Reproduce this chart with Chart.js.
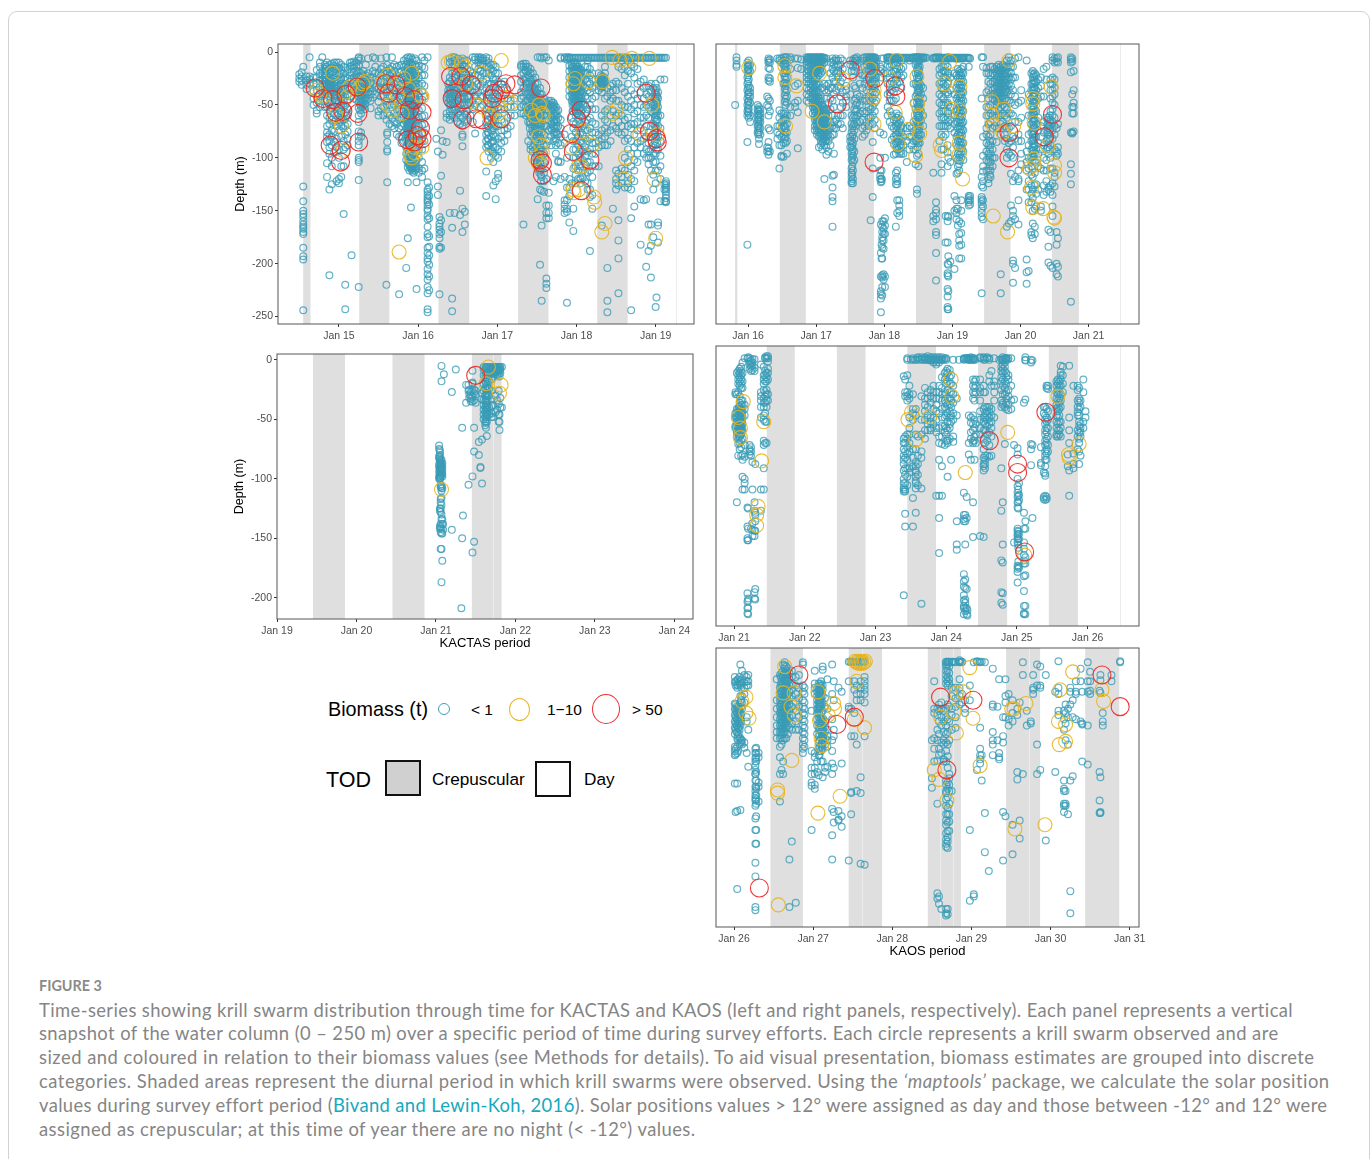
<!DOCTYPE html>
<html>
<head>
<meta charset="utf-8">
<title>Figure 3</title>
<script src="https://cdn.jsdelivr.net/npm/chart.js@4"></script>
<style>
html,body{margin:0;padding:0;background:#fff;width:1372px;height:1159px;overflow:hidden;font-family:"Liberation Sans",sans-serif}
#card{position:absolute;left:8px;top:11px;width:1360px;height:1300px;border:1px solid #d2d2d2;border-radius:9px}
canvas{position:absolute}
.t{position:absolute;white-space:nowrap;color:#000;line-height:1}
.cap{position:absolute;left:39px;white-space:nowrap;font-family:Lato,sans-serif;font-size:18.4px;color:#858585;line-height:1}
.cap a{color:#15a8c0;text-decoration:none}
.cap i{font-style:italic}
.ring{position:absolute;box-sizing:border-box;border-radius:50%;background:#fff}
.box{position:absolute;box-sizing:border-box;border:2.5px solid #111;width:36px;height:36px}
</style>
</head>
<body>
<div id="card"></div>

<canvas id="p1" width="473" height="324" style="left:233px;top:32px"></canvas>
<canvas id="p2" width="485" height="324" style="left:666px;top:32px"></canvas>
<canvas id="p3" width="473" height="309" style="left:232px;top:342px"></canvas>
<canvas id="p4" width="485" height="324" style="left:666px;top:334px"></canvas>
<canvas id="p5" width="485" height="323" style="left:666px;top:636px"></canvas>

<div class="t" style="left:328px;top:700px;font-size:19.8px">Biomass (t)</div>
<div class="ring" style="left:438px;top:703px;width:12px;height:12px;border:1.6px solid #3f9fb8"></div>
<div class="t" style="left:471px;top:702px;font-size:15.5px">&lt; 1</div>
<div class="ring" style="left:509px;top:698px;width:21px;height:23px;border:1.6px solid #e8b82a"></div>
<div class="t" style="left:547px;top:702px;font-size:15.5px">1−10</div>
<div class="ring" style="left:592px;top:694px;width:28px;height:30px;border:1.6px solid #f02c2c"></div>
<div class="t" style="left:632px;top:702px;font-size:15.5px">&gt; 50</div>
<div class="t" style="left:326px;top:770px;font-size:21.5px">TOD</div>
<div class="box" style="left:385px;top:760px;background:#d0d0d0"></div>
<div class="t" style="left:432px;top:771px;font-size:17.2px">Crepuscular</div>
<div class="box" style="left:535px;top:761px;background:#fff"></div>
<div class="t" style="left:584px;top:771px;font-size:17.2px">Day</div>

<div class="cap" style="top:979px;font-size:14.4px;font-weight:700;color:#8a8a8a">FIGURE 3</div>
<div class="cap" style="top:1001px;letter-spacing:.4px">Time-series showing krill swarm distribution through time for KACTAS and KAOS (left and right panels, respectively). Each panel represents a vertical</div>
<div class="cap" style="top:1024px;letter-spacing:.41px">snapshot of the water column (0 – 250 m) over a specific period of time during survey efforts. Each circle represents a krill swarm observed and are</div>
<div class="cap" style="top:1048px;letter-spacing:.49px">sized and coloured in relation to their biomass values (see Methods for details). To aid visual presentation, biomass estimates are grouped into discrete</div>
<div class="cap" style="top:1072px;letter-spacing:.51px">categories. Shaded areas represent the diurnal period in which krill swarms were observed. Using the <i>‘maptools’</i> package, we calculate the solar position</div>
<div class="cap" style="top:1096px;letter-spacing:.36px">values during survey effort period (<a href="#">Bivand and Lewin-Koh, 2016</a>). Solar positions values &gt; 12° were assigned as day and those between -12° and 12° were</div>
<div class="cap" style="top:1120px;letter-spacing:.44px">assigned as crepuscular; at this time of year there are no night (&lt; -12°) values.</div>

<script>
// ==== tick labels ====
const p1Days = [15, 16, 17, 18, 19];
const p2Days = [16, 17, 18, 19, 20, 21];
const p3Days = [19, 20, 21, 22, 23, 24];
const p4Days = [21, 22, 23, 24, 25, 26];
const p5Days = [26, 27, 28, 29, 30, 31];
const depthTicks = [0, -50, -100, -150, -200, -250];
const depthTicksKactas = [0, -50, -100, -150, -200];

// ==== crepuscular bands (start day, end day) ====
const p1Bands = [[14.549,14.641],[15.257,15.637],[16.257,16.646],[17.262,17.646],[18.262,18.646]];
const p2Bands = [[15.809,15.843],[16.466,16.848],[17.466,17.848],[18.466,18.848],[19.466,19.853],[20.461,20.858]];
const p3Bands = [[19.453,19.856],[20.453,20.856],[21.452,21.826]];
const p4Bands = [[21.463,21.859],[22.454,22.860],[23.45,23.857],[24.451,24.862],[25.452,25.863]];
const p5Bands = [[26.46,26.87],[27.449,27.871],[28.449,28.867],[29.438,29.868],[30.438,30.869]];
// thin pale slivers left in the shading
const p1Seams = [19.253];
const p2Seams = [21.456];
const p3Seams = [21.72];
const p4Seams = [26.453];
const p5Seams = [27.62, 28.6, 28.77, 29.73];

// ==== swarms < 1 t, one row per track: [day, [depths]] ====
const p1Small = [
[14.50,[-21,-25,-28]],[14.53,[-19,-23,-27,-31]],[14.55,[-14,-127,-141,-150,-153,-156,-160,-163,-165,-167,-170,-172,-185,-193,-196,-244]],
[14.59,[-23,-27,-31,-35]],[14.63,[-5,-23,-26,-30]],[14.68,[-24,-30,-37,-44,-50]],[14.72,[-17,-24,-30,-36,-42,-48,-55,-58]],
[14.76,[-10,-14,-20,-27,-33,-40,-46,-52]],[14.79,[-5,-18,-22,-26,-30,-36,-42]],[14.82,[-12,-16,-20,-24,-30,-36,-40,-46,-52]],
[14.85,[-10,-14,-18,-22,-26,-31,-35,-40,-45,-52,-60,-70,-76,-80,-85,-105,-118]],[14.88,[-12,-16,-20,-24,-28,-32,-36,-42,-48,-55,-62,-68,-78,-84,-90,-96,-130,-211]],
[14.91,[-11,-15,-19,-25,-30,-33,-36,-40,-47,-53,-64,-74,-80,-88,-100,-108,-125]],[14.94,[-10,-13,-18,-24,-29,-34,-38,-44,-51,-58,-66,-75,-85,-95]],
[14.97,[-10,-14,-20,-26,-32,-37,-41,-46,-52,-60,-70,-82,-90,-122]],[15.00,[-10,-15,-21,-27,-32,-36,-40,-47,-53,-58,-66,-74,-92,-100,-120,-124]],
[15.03,[-12,-17,-24,-30,-35,-40,-44,-50,-56,-62,-70,-80,-108,-118]],[15.06,[-14,-20,-26,-32,-38,-46,-52,-58,-64,-72,-84,-92,-108,-153]],
[15.08,[-15,-24,-30,-36,-42,-50,-57,-63,-70,-78,-90,-220,-243]],[15.11,[-17,-25,-33,-40,-46,-54,-60,-68,-75,-82,-88]],[15.14,[-10,-14,-22,-28,-35,-42]],
[15.16,[-10,-13,-19,-26,-33,-192]],[15.19,[-9,-12,-15,-19,-24,-30,-36,-44]],[15.22,[-10,-14,-18,-22,-26,-30,-38,-45]],
[15.25,[-5,-6,-8,-13,-18,-23,-28,-33,-38,-42,-47,-53,-60,-66,-75,-80,-84,-88,-100,-102,-104,-121,-222]],[15.28,[-6,-20,-30,-36,-40,-44,-48,-52,-58,-76,-80]],
[15.31,[-18,-25,-30,-35,-40,-45,-50]],[15.34,[-12,-22,-28,-33,-38,-46]],[15.37,[-6,-20,-26,-32,-38,-44]],[15.40,[-24,-29,-34,-40,-46,-53]],[15.43,[-5,-18,-24,-30,-37,-43]],
[15.46,[-6,-14,-20,-26,-33,-40]],[15.50,[-20,-27,-35,-47,-56,-60]],[15.53,[-6,-16,-22,-28,-36,-42,-53]],[15.56,[-14,-20,-28,-34,-42,-52,-60]],
[15.60,[-5,-18,-24,-32,-38,-46,-64,-220]],[15.61,[-12,-20,-28,-36,-50,-58,-76,-78,-85,-92,-94,-123]],[15.64,[-16,-22,-28,-35,-42,-50,-60,-68]],[15.67,[-5,-14,-20,-26,-34,-42,-52,-62,-70]],
[15.70,[-12,-18,-24,-30,-36,-44,-50,-58,-66,-72]],[15.73,[-14,-22,-28,-34,-40,-46,-54,-60,-68,-78]],[15.76,[-13,-19,-25,-31,-37,-43,-49,-56,-64,-72,-80,-229]],
[15.79,[-12,-18,-24,-30,-36,-42,-48,-54,-62,-70,-80,-86]],[15.82,[-8,-14,-20,-26,-32,-38,-44,-50,-56,-62,-68,-76,-84]],[15.85,[-6,-12,-18,-24,-30,-36,-42,-48,-54,-60,-66,-72,-78,-84,-90,-96,-102,-204]],
[15.87,[-5,-9,-15,-21,-27,-33,-39,-45,-51,-57,-63,-69,-75,-81,-87,-93,-99,-105,-109,-123,-176]],[15.89,[-6,-11,-17,-23,-29,-35,-41,-47,-53,-59,-65,-71,-77,-83,-89,-95,-101,-107,-112]],
[15.91,[-5,-10,-16,-22,-28,-34,-40,-46,-52,-58,-64,-70,-76,-82,-88,-94,-100,-106,-110,-147]],[15.93,[-7,-13,-19,-25,-31,-37,-43,-49,-55,-61,-67,-73,-79,-85,-91,-97,-103,-109,-113]],
[15.96,[-6,-12,-18,-24,-30,-36,-42,-48,-54,-60,-66,-72,-78,-84,-90,-96,-102,-108,-112]],[15.98,[-8,-14,-22,-30,-38,-46,-54,-62,-70,-78,-86,-94,-102,-110,-123,-224]],
[16.01,[-13,-17,-24,-31,-39,-47,-55,-62,-70,-78,-85,-92,-100,-110,-114]],[16.05,[-5,-14,-22,-30,-37,-45,-53,-61,-69,-77,-84,-92,-104,-112,-118]],[16.08,[-8,-15,-22,-32,-42,-60,-68,-76,-84,-110]],
[16.12,[-5,-123,-130,-132,-135,-138,-140,-142,-145,-148,-150,-155,-158,-165,-172,-175,-185,-190,-195,-198,-205,-210,-215,-222,-228,-243,-246]],[16.14,[-128,-136,-144,-157,-174,-184,-192,-201,-212,-225]],
[16.23,[-82]],[16.25,[-94,-127,-135]],[16.27,[-156,-162,-165,-168,-172,-176,-184,-186,-229]],[16.29,[-74,-117,-159,-170,-185]],[16.31,[-84,-97]],[16.36,[-85,-62,-58]],
[16.40,[-6,-10,-24,-28,-34,-38,-44,-50,-56,-60,-64,-152]],[16.43,[-5,-9,-14,-20,-26,-32,-38,-42,-48,-54,-60,-166,-233,-245]],[16.46,[-5,-8,-12,-18,-24,-30,-36,-42,-48,-54,-62,-152]],
[16.50,[-6,-10,-16,-22,-28,-34,-40,-46,-52,-58,-66]],[16.53,[-8,-14,-20,-26,-32,-38,-44,-50,-56,-60,-68,-131,-154]],[16.56,[-6,-12,-18,-24,-30,-36,-42,-48,-54,-62,-70,-78,-80,-89,-148,-170]],
[16.59,[-8,-14,-20,-26,-32,-38,-44,-50,-58,-66,-151,-163]],[16.62,[-8,-16,-24,-30,-36,-42,-50,-56,-64]],[16.66,[-18,-24,-30,-36,-42,-50,-60]],[16.69,[-5,-20,-26,-32,-38,-46,-54,-66]],
[16.72,[-5,-7,-14,-22,-28,-36,-42,-50,-77]],[16.76,[-5,-7,-10,-16,-22,-30,-38,-46]],[16.79,[-5,-6,-8,-12,-18,-24,-32,-42,-52]],[16.82,[-6,-8,-12,-20,-28,-36,-42,-50]],
[16.86,[-5,-8,-14,-20,-26,-34,-40,-46,-54,-60,-66,-72,-78,-84,-90,-113,-136]],[16.89,[-6,-10,-14,-20,-30,-38,-44,-52,-58,-64,-70,-76,-82,-88,-94]],[16.92,[-12,-16,-22,-30,-38,-46,-54,-62,-68,-74,-80,-86,-92,-100]],
[16.95,[-12,-18,-26,-34,-42,-50,-58,-66,-72,-78,-84,-90,-96,-104,-126]],[16.98,[-14,-20,-26,-34,-42,-50,-60,-70,-80,-90,-98,-122,-139]],[17.01,[-20,-28,-36,-44,-52,-60,-70,-82,-92,-100,-115,-119]],
[17.05,[-30,-36,-44,-54,-64,-74,-80,-86,-94]],[17.09,[-28,-34,-44,-54,-66,-74,-84]],[17.13,[-36,-44,-52,-62,-72,-78]],[17.17,[-46,-52,-60,-70]],[17.22,[-44,-52,-60]],
[17.30,[-12,-14,-22,-28,-38,-44,-52,-58]],[17.33,[-11,-14,-20,-26,-34,-42,-50,-58,-163]],[17.36,[-11,-14,-18,-24,-30,-38,-46,-52,-60]],[17.39,[-14,-18,-22,-28,-34,-40,-46,-52,-58,-66,-84]],
[17.42,[-16,-20,-26,-32,-38,-44,-50,-56,-62,-68,-78,-88,-92]],[17.45,[-20,-26,-32,-38,-44,-50,-58,-66,-76,-90,-94]],[17.48,[-24,-30,-36,-42,-50,-58,-66,-74,-84,-92,-100]],
[17.51,[-5,-30,-36,-42,-48,-54,-60,-68,-76,-86,-96,-104,-110,-139]],[17.54,[-5,-34,-40,-46,-52,-58,-64,-72,-80,-88,-96,-104,-112,-201,-130]],[17.56,[-6,-40,-46,-52,-60,-68,-76,-84,-92,-100,-110,-118,-131,-164,-235]],
[17.59,[-5,-44,-52,-60,-70,-78,-88,-96,-104,-114,-122,-132]],[17.62,[-5,-48,-54,-60,-70,-88,-120,-145,-152,-157,-214,-219,-223]],[17.65,[-8,-46,-50,-56,-64,-74,-84,-133,-145,-152,-157]],
[17.68,[-46,-50,-54,-60,-66,-72,-80,-88]],[17.71,[-48,-52,-58,-64,-70,-76,-84,-122]],[17.74,[-52,-58,-64,-70,-76,-82,-88,-96,-118]],[17.77,[-55,-62,-70,-78,-86,-103,-104]],[17.80,[-5,-6,-64,-72,-80,-88,-104,-120]],
[17.85,[-5,-6,-78,-86,-118,-140,-144,-148,-152]],[17.88,[-5,-7,-100,-128,-140,-148,-151,-237]],[17.91,[-5,-6,-13,-18,-24,-30,-36,-42,-161,-120,-128,-136]],[17.94,[-12,-16,-22,-28,-34,-40,-46,-62,-80,-124]],
[17.96,[-10,-14,-20,-24,-30,-36,-42,-48,-56,-66,-72,-84,-92,-100,-110,-148,-169]],[17.99,[-12,-16,-22,-28,-34,-40,-46,-52,-60,-68,-76,-84,-92,-100,-108,-116,-124]],[18.02,[-14,-18,-24,-30,-36,-42,-48,-56,-64,-72,-80,-88,-96,-104,-112,-120]],
[18.05,[-16,-20,-26,-32,-38,-44,-52,-60,-68,-76,-84,-92,-100,-108,-120,-124]],[18.08,[-20,-26,-32,-38,-46,-54,-62,-70,-78,-86,-94,-102,-112,-118]],[18.11,[-14,-20,-26,-34,-42,-50,-58,-66,-74,-82,-90,-98,-106,-114,-122]],
[18.14,[-8,-14,-20,-28,-36,-44,-54,-64,-74,-84,-94,-104,-114,-124,-130]],[18.17,[-16,-22,-30,-38,-50,-62,-72,-82,-92,-104,-112,-130,-137,-188]],[18.20,[-20,-26,-34,-44,-54,-66,-76,-86,-96,-108,-118,-135,-148]],
[18.24,[-26,-32,-42,-54,-68,-76,-86,-96,-108]],[18.28,[-20,-26,-30,-36,-78,-84,-90,-108]],[18.32,[-24,-28,-32,-38,-60,-74,-82,-88,-164]],[18.36,[-14,-20,-28,-44,-56,-64,-72,-80,-88]],
[18.39,[-204,-235,-246,-34,-42,-54,-66,-76,-88]],[18.43,[-32,-38,-46,-60,-74,-84]],[18.46,[-30,-36,-44,-56,-70,-148]],[18.50,[-28,-36,-46,-60,-72,-112,-120,-124,-130]],
[18.53,[-5,-14,-30,-46,-58,-66,-76,-115,-126,-178,-159,-195,-228]],[18.57,[-8,-16,-34,-50,-60,-70,-78,-110,-118,-124]],[18.61,[-14,-22,-38,-52,-64,-76,-84,-100,-112,-128]],
[18.65,[-8,-18,-30,-42,-52,-62,-70,-82,-92,-104,-116,-124,-128]],[18.69,[-12,-20,-36,-46,-54,-68,-72,-84,-96,-108,-120,-130,-157,-244]],[18.73,[-14,-24,-40,-50,-58,-68,-78,-90,-102,-112,-122,-146]],
[18.77,[-16,-30,-44,-56,-66,-74,-86,-96,-104]],[18.81,[-28,-38,-50,-62,-72,-84,-90,-139,-182]],[18.85,[-26,-34,-44,-52,-62,-74,-82,-96,-140]],[18.88,[-32,-40,-50,-60,-70,-80,-92,-100,-139,-203]],
[18.91,[-32,-42,-52,-62,-76,-86,-94,-100,-106,-188,-163]],[18.94,[-30,-38,-48,-56,-70,-80,-92,-100,-112,-163,-183,-213]],[18.97,[-34,-42,-50,-58,-68,-78,-88,-96,-104,-116,-130,-175]],
[19.00,[-30,-36,-42,-48,-54,-60,-66,-72,-80,-88,-96,-104,-112,-124,-241]],[19.01,[-34,-40,-46,-52,-58,-64,-72,-82,-92,-232]],[19.03,[-38,-44,-52,-60,-70,-80,-92,-112,-161,-164,-180]],
[19.06,[-26,-60,-72,-84,-98,-108,-120,-141]],[19.13,[-122,-124,-126,-128,-130,-132,-135,-138,-141,-142]],[19.11,[-26,-125,-130,-141]],
// solid patches
[14.875,[-27,-29,-31,-33,-35]],[14.90,[-27,-29,-31,-33,-35,-37]],[15.865,[-20,-24,-28,-32,-36,-40,-44,-48,-52,-56,-60,-64,-68,-72,-76]],[15.88,[-14,-18,-22,-26,-30,-34,-38,-42,-46,-50,-54,-58,-62,-66,-70,-74,-78,-86,-96,-104]],
[15.90,[-19,-25,-31,-37,-43,-49,-55,-61,-67,-73,-85,-98,-103,-108]],[15.92,[-12,-20,-26,-32,-38,-44,-50,-56,-62,-68,-74,-100,-105,-111]],[15.945,[-22,-28,-34,-40,-46,-52,-58,-64,-104,-109,-114]],[15.97,[-20,-27,-33,-39,-45,-51,-106,-110]],
[17.41,[-24,-30,-36,-42,-48,-54,-60,-66,-72]],[17.44,[-28,-34,-40,-46,-52,-56,-62,-70,-74,-80]],[17.47,[-34,-40,-46,-54,-62,-70,-78,-88]],[17.50,[-38,-44,-50,-56,-62,-72,-80,-94,-100,-108]],[17.53,[-43,-50,-56,-62,-68,-76,-84,-92,-100,-108,-114]],[17.55,[-48,-54,-62,-70,-82,-94,-106,-116,-122]],
[17.69,[-48,-52,-56,-62,-68,-74]],[17.72,[-50,-54,-60,-66,-72,-78]],[17.75,[-56,-60,-66,-72,-78]],
[17.95,[-14,-18,-26,-32,-38,-44,-50,-56]],[17.97,[-16,-22,-26,-32,-38,-44,-50]],[17.98,[-10,-18,-24,-30,-36,-42,-48,-54]],[18.00,[-14,-20,-26,-32,-38,-44,-50,-56]],[18.01,[-12,-16,-22,-28,-34,-40,-46,-52,-58]],[18.03,[-16,-20,-26,-32,-38,-44,-50,-60]],[18.04,[-22,-28,-34,-40,-46,-54]],[18.06,[-18,-24,-30,-36,-42,-48,-56]],
[18.31,[-22,-25,-27,-29,-31,-34]],[18.33,[-23,-26,-28,-30,-33]],[18.35,[-24,-27,-30]],[16.38,[-30,-36,-40,-44,-48]],[16.41,[-36,-40,-44,-46,-50]],[16.44,[-36,-40,-44,-48,-52]],[18.99,[-38,-44,-50,-56,-62,-70,-78,-84]],[19.02,[-42,-48,-56,-64,-76,-86]],
[15.30,[-22,-28,-33,-37,-42,-47,-52]],[15.33,[-24,-30,-35,-40,-44,-49,-54]],[15.27,[-24,-30,-34,-38,-42,-46,-50,-55]],[15.02,[-20,-26,-32,-38,-44,-50,-56,-64]],[14.96,[-16,-22,-28,-34,-40,-48]],[14.83,[-14,-18,-22,-26,-28,-33,-38]],[16.55,[-16,-24,-34,-44]],[16.64,[-22,-28,-34,-42,-48]],[16.88,[-64,-70,-76,-82,-88]],[16.94,[-66,-74,-84,-94]],[16.96,[-30,-38,-46,-54,-62,-70]]
];
const p1SurfaceDays = [17.90,17.93,17.95,17.97,17.99,18.01,18.03,18.05,18.07,18.09,18.11,18.13,18.15,18.17,18.19,18.21,18.23,18.25,18.27,18.29,18.31,18.33,18.35,18.37,18.39,18.41,18.43,18.45,18.47,18.49,18.51,18.53,18.55,18.57,18.59,18.61,18.63,18.65,18.67,18.69,18.71,18.73,18.75,18.77,18.79,18.81,18.83,18.85,18.87,18.89,18.91,18.93,18.95,18.97,18.99,19.01,19.03,19.05,19.07,19.09,19.11,19.13];

const p2Small = [
[15.81,[-50]],[15.83,[-5,-8,-12,-14]],[15.99,[-10,-14,-18,-24,-30,-36,-44,-50,-56,-60,-85,-182]],[16.01,[-8,-12,-16,-20,-26,-32,-38,-42,-46,-50,-54,-58,-62]],[16.03,[-12,-18,-34,-38,-42,-48,-60,-66]],[16.00,[-13,-17,-22,-28,-34,-40,-47,-53,-57]],
[16.14,[-50,-54,-58,-64,-70,-76]],[16.16,[-52,-56,-60,-64,-68,-72,-76,-82,-87]],[16.18,[-54,-58,-62,-66,-72,-78]],[16.15,[-55,-59,-62,-66,-70,-74,-78]],[16.28,[-42,-50,-90,-94]],[16.30,[-6,-8,-10,-15,-24,-27,-44,-52,-60,-72,-85,-91,-94,-97]],[16.32,[-7,-10,-16,-25,-28,-46,-56,-74,-94]],
[16.43,[-6,-70,-76,-82]],[16.46,[-6,-8,-55,-62,-70,-78,-88,-110]],[16.49,[-6,-10,-58,-66,-72,-80,-88,-98,-99]],[16.52,[-5,-8,-12,-20,-30,-58,-64,-70,-78,-86,-99]],[16.55,[-5,-8,-14,-20,-26,-32,-38,-44,-50,-58,-64,-72,-80,-86]],[16.54,[-11,-17,-23,-29,-35,-41,-47,-62,-70,-76,-82]],
[16.57,[-5,-10,-18,-24,-30,-36,-42,-48,-60,-68,-76,-84,-96]],[16.62,[-5,-7,-16,-52,-60]],[16.69,[-6,-32,-48,-52]],[16.73,[-6,-15,-30,-46,-57,-91]],[16.78,[-7,-16]],
[16.86,[-5,-7,-9,-12,-16,-20,-24,-28,-34,-40,-46]],[16.89,[-5,-7,-10,-14,-18,-22,-26,-30,-36,-42,-48]],[16.92,[-5,-7,-10,-14,-18,-22,-26,-30,-34,-38,-44]],[16.95,[-5,-8,-12,-16,-20,-24,-28,-32,-36,-40,-44,-48,-52,-58]],
[16.98,[-5,-8,-12,-16,-20,-26,-32,-36,-40,-44,-48,-52,-56,-60,-64,-70,-74]],[17.01,[-5,-7,-10,-14,-18,-24,-30,-34,-38,-44,-50,-56,-62,-66,-70,-74,-78]],[17.04,[-5,-8,-12,-16,-22,-30,-38,-44,-48,-54,-58,-62,-66,-70,-74,-80,-90]],
[17.07,[-5,-7,-11,-15,-20,-44,-50,-54,-58,-62,-66,-70,-74,-78,-84,-88]],[17.09,[-5,-8,-12,-18,-34,-50,-54,-58,-62,-66,-70,-74,-78,-82,-86,-92]],[17.12,[-6,-10,-30,-36,-54,-58,-62,-66,-70,-74,-78,-82,-88,-120]],[17.15,[-6,-32,-38,-44,-54,-58,-62,-68,-74,-80,-84,-90,-97]],
[16.97,[-10,-14,-18,-22,-28,-34,-38,-42,-46,-50,-54]],[17.00,[-9,-13,-19,-25,-31,-37,-42,-46,-52,-58,-64,-68]],[17.03,[-10,-14,-20,-42,-46,-50,-56,-60,-64,-68,-72,-76]],[17.06,[-9,-13,-17,-46,-52,-56,-60,-64,-68,-72,-76,-80]],[17.105,[-52,-56,-60,-64,-68,-72,-76,-80,-84]],[17.135,[-56,-60,-64,-68,-72,-76,-80,-84]],
[17.18,[-30,-36,-48,-60,-66,-72,-78,-84,-94]],[17.21,[-10,-20,-34,-44,-54,-66,-72,-80,-88]],[17.24,[-6,-10,-16,-24,-34,-46,-60,-70,-78,-117,-128,-137,-141,-165]],[17.26,[-8,-12,-18,-28,-40,-52,-66,-72,-78,-96,-116]],
[17.29,[-6,-8,-14,-20,-28,-36,-64,-72]],[17.32,[-8,-12,-18,-24,-32,-60,-68]],[17.36,[-6,-12,-20,-28,-34,-42,-52,-60,-68]],[17.39,[-8,-16,-24,-38,-48,-60,-72]],[17.44,[-32,-36,-42,-46,-52]],
[17.50,[-8,-12,-40,-80,-84,-90]],[17.52,[-18,-60,-68,-76,-84,-90,-96,-102,-110,-114,-118,-122,-124]],[17.54,[-8,-14,-24,-62,-70,-78,-86,-92,-98,-104,-112,-120,-124]],[17.56,[-6,-10,-18,-32,-46,-54,-60,-68,-74,-82,-94,-102]],[17.53,[-72,-80,-88,-94,-100,-108,-116]],
[17.58,[-6,-8,-14,-34,-44,-50,-56,-62,-70]],[17.60,[-5,-8,-12,-40,-48,-54,-60,-66]],[17.64,[-20,-30,-42,-50,-58,-66]],[17.68,[-6,-22,-34,-46,-56,-64,-72,-80]],[17.71,[-5,-8,-14,-22,-30,-44,-58,-70,-78]],
[17.74,[-5,-8,-12,-18,-26,-36,-46,-56,-66,-74]],[17.77,[-5,-7,-10,-16,-24,-32,-42,-52,-62,-70]],[17.80,[-5,-8,-12,-18,-24,-30,-38,-46,-54,-62,-159]],[17.83,[-5,-7,-10,-14,-20,-26,-32,-38,-44,-52,-60,-68,-85,-110,-137]],
[17.86,[-5,-8,-12,-16,-22,-28,-34,-40,-48,-56,-64,-72]],[17.88,[-6,-10,-14,-18,-24,-30,-38,-46]],[17.85,[-7,-11,-15,-20,-26,-32]],[17.82,[-9,-13,-17,-22,-28]],[17.94,[-14,-18,-76,-120,-100,-112,-117]],[17.96,[-6,-16,-24,-120,-122,-112,-120,-182,-195]],
[17.95,[-123,-163,-190,-212,-226,-229,-233,-246]],[17.97,[-160,-165,-170,-175,-178,-185,-195,-211,-213,-222,-230]],[17.99,[-6,-20,-78,-160,-167,-172,-178,-186,-210,-215]],[18.01,[-100,-157,-164,-172,-212,-222]],
[18.05,[-5,-8,-12,-20,-30,-40,-52,-60]],[18.08,[-5,-8,-14,-24,-30,-38,-46,-56,-66]],[18.11,[-7,-12,-20,-28,-36,-46,-60,-70,-83]],[18.14,[-6,-12,-18,-30,-38,-46,-64,-72,-80,-87,-97]],[18.17,[-7,-12,-18,-26,-34,-44,-62,-70,-78,-86,-96,-114,-120,-125,-165]],
[18.19,[-5,-10,-16,-22,-30,-62,-70,-78,-85,-92,-112,-118,-122,-125,-140,-152]],[18.22,[-6,-14,-20,-28,-66,-74,-82,-90,-96,-140,-145,-150,-155]],[18.25,[-8,-16,-24,-34,-70,-76,-84,-90,-96]],[18.28,[-6,-14,-22,-72,-80,-88,-96]],[18.18,[-58,-66,-74,-82,-90]],[18.21,[-60,-68,-76,-84,-92]],[18.24,[-64,-72,-80,-88,-94]],
[18.33,[-6,-72,-84,-104]],[18.37,[-8,-70,-80,-92]],[18.40,[-6,-72,-80,-88]],[18.43,[-5,-30,-48,-66,-76,-84,-92]],[18.46,[-5,-12,-20,-30,-42,-54,-64,-74,-84,-92,-106]],[18.48,[-5,-10,-16,-24,-32,-40,-48,-58,-66,-76,-84,-98,-134,-130]],
[18.50,[-5,-9,-14,-20,-26,-32,-38,-44,-50,-56,-62,-70,-78,-86,-96,-108]],[18.52,[-5,-8,-14,-22,-30,-36,-42,-48,-54,-62,-70,-78,-86]],[18.54,[-6,-32,-40,-48,-56,-64,-78]],[18.57,[-5,-6,-34,-44,-60,-70]],[18.49,[-13,-19,-28,-36,-44,-52,-60,-68,-74,-82,-90]],[18.51,[-17,-24,-34,-46,-52,-60,-66,-74,-82]],
[18.72,[-6,-114,-155,-160]],[18.76,[-5,-6,-170,-142,-149,-152,-158,-173,-190,-216]],[18.81,[-5,-6,-16,-22,-30,-40,-48,-58,-70,-84]],[18.84,[-6,-14,-20,-28,-34,-42,-50,-56,-62,-70,-78,-92,-106,-114]],
[18.87,[-6,-14,-18,-24,-30,-36,-44,-50,-56,-62,-70,-80,-92]],[18.90,[-6,-12,-18,-24,-32,-40,-48,-56,-64,-70,-78,-155,-180]],[18.93,[-6,-14,-22,-30,-38,-48,-56,-62,-70,-88,-95,-108,-160,-155,-180,-200,-209,-211,-224,-231,-241,-243]],[18.94,[-5,-20,-28,-40,-50,-58,-66,-100,-156,-193,-201,-212,-226,-243]],
[18.97,[-6,-24,-36,-52,-64,-72,-104,-198]],[19.03,[-6,-20,-40,-60,-68,-76,-136,-150,-205]],[19.06,[-6,-22,-34,-44,-56,-66,-80,-88,-100,-115,-140,-148,-152,-158]],[19.08,[-6,-16,-24,-30,-36,-42,-48,-54,-60,-66,-72,-78,-84,-90,-96,-102,-108,-114,-148,-164]],
[19.10,[-6,-18,-22,-28,-34,-40,-46,-52,-58,-64,-70,-76,-82,-88,-94,-100,-106,-112,-160,-172,-178,-183,-195]],[19.13,[-6,-16,-22,-28,-34,-40,-46,-52,-58,-64,-70,-76,-82,-88,-94,-100,-140,-150,-162,-171,-182,-195]],[19.16,[-6,-14,-20,-28,-38,-46,-56,-66,-74,-86,-94,-102]],[19.11,[-20,-25,-31,-37,-43,-49,-55,-61,-67,-73,-79,-85,-91,-97,-103]],[19.14,[-19,-25,-31,-37,-43,-49,-55,-61,-67,-73,-79,-85,-91]],
[19.24,[-6,-14,-136,-138,-140,-142,-145]],[19.26,[-6,-136,-140,-144]],[19.43,[-5,-44,-118,-126,-137,-139,-141,-144,-148,-152,-156,-228]],[19.45,[-5,-14,-80,-98,-108,-113,-122,-128,-140,-146,-158]],
[19.50,[-15,-20,-38,-52,-60,-72,-78,-86,-94,-102,-112]],[19.53,[-20,-28,-36,-44,-52,-60,-68,-80,-88,-96,-104,-112,-120,-124]],[19.56,[-14,-22,-30,-40,-50,-58,-66,-78,-88,-96,-104,-112,-118]],[19.59,[-14,-20,-28,-36,-44,-60,-72,-84,-92,-100,-108]],[19.55,[-84,-92,-100,-108,-116]],
[19.62,[-16,-22,-28,-34,-40,-46,-56,-70,-100]],[19.65,[-14,-20,-26,-32,-38,-44,-50,-60,-72,-85]],[19.68,[-12,-18,-24,-30,-36,-42,-48,-54,-60,-72]],[19.71,[-14,-20,-26,-32,-38,-44,-52,-60,-68,-78,-210,-228]],[19.66,[-17,-23,-29,-35,-41,-47]],[19.69,[-15,-21,-27,-33,-39,-45]],[19.72,[-17,-23,-29,-35,-41]],[19.75,[-15,-21,-27,-33,-39]],[19.78,[-17,-23,-29,-35]],
[19.74,[-12,-18,-24,-30,-36,-42,-50,-58,-66]],[19.77,[-14,-20,-26,-32,-38,-44,-52,-60,-70,-78,-84]],[19.80,[-8,-14,-20,-26,-32,-38,-46,-54,-62,-72,-82,-92,-100,-165]],[19.83,[-5,-12,-18,-24,-30,-36,-46,-58,-72,-86,-96,-162]],
[19.86,[-8,-14,-20,-26,-32,-40,-48,-58,-70,-84,-98,-115,-145,-160]],[19.89,[-14,-24,-36,-60,-80,-90,-100,-122,-150,-155,-200,-197,-218]],[19.92,[-6,-24,-42,-50,-66,-82,-118,-158,-204]],[19.97,[-5,-48,-66,-78,-84,-112,-122,-140,-163,-120]],
[20.01,[-36,-46,-62,-84,-96,-106]],[20.09,[-8,-94,-104,-112,-130,-196,-208,-219]],[20.12,[-40,-60,-78,-88,-100,-110,-122,-130,-142,-207]],[20.16,[-20,-30,-36,-44,-52,-60,-68,-76,-84,-92,-100,-108,-116,-126,-134,-142,-170,-173]],
[20.18,[-18,-24,-30,-36,-42,-48,-54,-60,-66,-72,-78,-84,-90,-96,-102,-110,-118,-130,-138,-150,-162,-176]],[20.21,[-20,-28,-34,-40,-48,-56,-64,-72,-80,-88,-96,-104,-114,-126,-148,-172,-165]],[20.23,[-22,-28,-36,-46,-56,-68,-80,-92,-104,-125,-134,-146]],[20.19,[-21,-27,-33,-39,-45,-51,-57,-63,-69,-75,-81,-87,-93,-99]],[20.20,[-23,-29,-35,-41,-47,-53,-59,-65,-71,-77,-83,-89]],
[20.26,[-26,-34,-44,-62,-74,-86,-96,-108,-130]],[20.30,[-24,-32,-42,-70,-80,-92,-110,-150,-146]],[20.34,[-16,-42,-66,-76,-88,-100,-112,-126,-135]],[20.38,[-14,-26,-62,-74,-84,-92,-102,-112,-122,-132]],[20.41,[-62,-70,-78,-86,-96,-130,-128,-168,-184,-199]],[20.40,[-64,-68,-72,-76,-82,-90]],[20.43,[-60,-66,-70,-74,-82,-92]],
[20.44,[-26,-30,-36,-44,-56,-64,-72,-80,-88,-100,-110,-126,-132,-170,-202]],[20.47,[-5,-8,-24,-30,-36,-42,-48,-54,-60,-66,-74,-82,-110,-124,-135,-146,-204,-155]],[20.50,[-6,-10,-26,-34,-40,-50,-62,-70,-78,-92,-114,-118,-127]],
[20.53,[-6,-9,-72,-94,-98,-170,-182,-200,-210]],[20.55,[-5,-10,-68,-90,-96,-176,-203,-212]],[20.74,[-5,-7,-10,-19,-76,-106,-115,-125,-236]],[20.76,[-6,-9,-40,-52,-58,-76,-77]],[20.78,[-18,-36,-48,-52,-58,-75]]
];
const p2SurfaceDays = [16.88,16.90,16.92,16.94,16.96,16.98,17.0,17.02,17.04,17.06,17.08,17.10,17.12,17.78,17.80,17.82,17.84,17.86,18.04,18.06,18.08,18.10,18.12,18.14,18.16,18.18,18.20,18.22,18.24,18.26,18.28,18.30,18.32,18.34,18.36,18.38,18.40,18.42,18.44,18.46,18.48,18.50,18.52,18.54,18.56,18.58,18.60,18.62,18.72,18.74,18.76,18.78,18.80,18.82,18.84,18.86,18.88,18.90,18.92,18.94,18.96,18.98,19.00,19.02,19.04,19.06,19.08,19.10,19.12,19.14,19.16,19.18,19.20,19.22,19.24];

const p3Small = [
[21.07,[-5,-18,-187]],[21.10,[-12]],[21.25,[-8]],[21.20,[-27,-143]],
[21.04,[-72,-75,-81,-83,-88,-90,-94,-98,-100]],[21.05,[-76,-78,-80,-82,-84,-86,-90,-92,-95,-97,-99,-100,-125,-127,-140,-142]],[21.06,[-85,-87,-89,-91,-93,-95,-97,-99,-105,-107,-117,-120,-125,-128,-138,-141,-145,-159]],
[21.07,[-84,-88,-92,-96,-106,-108,-110,-116,-122,-130,-134,-142,-146,-159]],[21.08,[-87,-90,-93,-96,-98,-108,-134,-138,-146,-169]],[21.09,[-138,-143]],
[21.33,[-57,-150]],[21.34,[-131]],[21.32,[-209]],[21.48,[-57,-77,-153]],[21.46,[-98,-162,-9,-19]],[21.41,[-105,-21,-26]],[21.58,[-104,-67]],[21.56,[-90,-91]],[21.54,[-80,-69]],[21.64,[-64]],
[21.38,[-36,-21]],[21.42,[-25,-29,-32]],[21.44,[-27,-30,-33,-35]],[21.46,[-20,-26,-31,-35]],[21.48,[-25,-28,-34]],[21.50,[-26,-29,-36]],[21.58,[-33,-28]],
[21.60,[-6,-8,-13,-20,-26,-34,-38,-42,-46,-50]],[21.62,[-6,-9,-13,-18,-24,-30,-35,-40,-44,-48,-52,-55]],[21.63,[-7,-11,-15,-20,-25,-30,-34,-38,-42,-46,-50,-53,-57]],[21.64,[-6,-10,-16,-22,-28,-32,-36,-40,-44,-48,-52]],
[21.65,[-7,-12,-18,-24,-30,-34,-38,-42,-46]],[21.67,[-6,-9,-12,-18,-24,-30,-40,-46]],[21.70,[-7,-11,-16,-26,-33,-39,-45,-48]],[21.72,[-6,-10,-14,-38,-48]],[21.75,[-6,-9,-12,-30,-44]],[21.77,[-6,-9,-13,-34,-42]],
[21.79,[-6,-8,-12,-26,-37,-46,-52]],[21.80,[-6,-9,-14,-46,-52,-59]],[21.81,[-6,-8,-11,-32,-40]],[21.83,[-6,-40]],
[21.69,[-6,-8,-10]],[21.71,[-7,-9,-12]],[21.73,[-6,-8,-11]],[21.74,[-7,-10]],[21.76,[-7,-10]],[21.78,[-7,-10]]
];

const p4Small = [
[21.02,[-36,-38,-56,-58,-60,-68,-70]],[21.04,[-18,-38,-52,-56,-60,-64,-68,-72,-74,-78,-140]],[21.06,[-16,-20,-24,-28,-36,-52,-56,-60,-64,-68,-72,-76,-80,-85,-96]],[21.08,[-14,-18,-22,-26,-30,-40,-46,-50,-54,-58,-62,-66,-70,-74,-78,-84,-90]],
[21.10,[-12,-16,-20,-24,-28,-32,-44,-48,-52,-56,-60,-64,-68,-72,-76,-82,-88,-96]],[21.12,[-8,-18,-26,-32,-44,-48,-54,-60,-66,-72,-80,-95,-100,-116,-128]],[21.15,[-4,-48,-52,-58,-86,-97,-118,-122,-128]],
[21.07,[-50,-54,-58,-62,-66,-70,-74,-78]],[21.09,[-52,-56,-60,-64,-68,-72,-76]],[21.11,[-54,-58,-62,-66,-70,-74]],
[21.19,[-4,-145,-163,-174,-176,-226,-234,-240,-245]],[21.20,[-3,-146,-165,-176,-231,-233,-240,-246]],[21.22,[-4,-7,-10,-14,-86,-90,-92,-95]],[21.24,[-6,-9,-12,-16,-88,-92,-96,-165]],[21.26,[-5,-8,-11,-15,-102,-128,-160,-166,-172]],
[21.29,[-5,-13,-16,-140,-148,-167,-172,-225,-231]],[21.30,[-104,-150,-152,-158,-167,-222,-232]],[21.38,[-10,-128,-148,-36,-40,-44,-50,-60]],[21.42,[-12,-20,-24,-28,-34,-42,-46,-50,-58,-62,-82,-86,-108,-128]],
[21.44,[-4,-3,-16,-20,-26,-36,-40,-46,-56,-64,-84]],[21.46,[-2,-4,-18,-22,-26,-34,-38,-44,-50,-64,-84]],[21.48,[-2,-4,-7,-14,-18,-24,-38,-44]],
[23.40,[-21,-80,-84,-90,-96,-100,-104,-110,-118,-122,-126,-128,-130,-228]],[23.42,[-24,-36,-40,-78,-84,-92,-98,-108,-114,-122,-128,-130,-151,-163]],[23.45,[-4,-20,-36,-40,-44,-76,-80,-88,-94,-100,-108,-116,-124]],
[23.48,[-30,-38,-42,-60,-70,-76,-84,-92,-108,-112]],[23.53,[-4,-38,-52,-56,-62,-90,-98,-106,-163,-136]],[23.57,[-52,-58,-76,-90,-102,-106,-110,-112,-116,-120,-122,-127,-150]],[23.60,[-4,-3,-78,-96,-104,-114,-124]],
[23.65,[-5,-3,-40,-62,-76,-92,-98,-127,-236]],[23.70,[-4,-3,-32,-42,-48,-54,-62,-72,-80]],[23.74,[-4,-2,-36,-42,-50,-58,-66,-72]],[23.78,[-5,-3,-6,-34,-40,-46,-60,-64,-70,-72]],[23.82,[-3,-5,-8,-30,-36,-42,-52,-60,-66]],
[23.86,[-3,-5,-8,-10,-36,-42,-48,-54,-62,-70,-74,-134]],[23.90,[-3,-5,-8,-30,-36,-42,-56,-70,-78,-84,-100,-134,-155,-188]],[23.94,[-3,-5,-22,-32,-38,-44,-52,-60,-68,-78,-85,-106,-134]],[23.98,[-4,-18,-24,-36,-44,-50,-60,-68,-74,-86]],
[24.00,[-4,-16,-22,-28,-38,-46,-52,-58,-70,-76,-82]],[24.02,[-14,-18,-26,-34,-42,-48,-56,-64,-72,-82,-84,-116]],[24.05,[-15,-22,-28,-36,-42,-48,-54,-60,-66,-70,-80]],[24.07,[-20,-28,-36,-44,-50,-58,-64,-100]],[24.10,[-30,-38,-46,-56,-62,-78,-83]],
[24.15,[-42,-58,-158,-180,-185]],[24.25,[-4,-5,-131,-152,-156,-158,-208,-215,-220,-228,-233,-238,-240,-246]],[24.27,[-4,-180,-152,-158,-213,-221,-232,-235,-240,-243]],[24.29,[-4,-135,-155,-222,-240,-246]],[24.30,[-4,-5,-247,-242]],
[24.32,[-4,-5,-58,-84,-95]],[24.35,[-3,-4,-60,-65,-74,-80,-100]],[24.38,[-4,-5,-24,-30,-36,-42,-58,-66,-72,-82,-84,-140,-173]],[24.40,[-4,-26,-32,-38,-44,-62,-70,-78,-82,-100]],[24.42,[-24,-30,-36,-66,-76,-84]],
[24.48,[-4,-3,-24,-32,-36,-44,-54,-62,-70,-76,-172]],[24.53,[-3,-4,-30,-36,-52,-60,-64,-72,-80,-90,-98,-104,-106,-110,-173]],[24.55,[-36,-50,-56,-60,-66,-72,-84,-96,-100,-104,-108]],
[24.58,[-3,-4,-50,-54,-58,-62,-68,-76,-82,-96]],[24.61,[-4,-20,-26,-50,-54,-60,-66,-74,-86,-97]],[24.64,[-16,-30,-52,-58,-64,-70,-78,-96]],[24.68,[-4,-26,-30,-36,-60,-44]],
[24.78,[-5,-12,-16,-22,-26,-34,-44,-50,-108,-148,-195,-225,-235]],[24.80,[-3,-6,-10,-14,-18,-24,-30,-38,-46,-48,-140,-180,-197,-226,-237]],[24.83,[-4,-8,-12,-16,-26,-32,-38,-50,-85]],[24.85,[-4,-4,-18,-22,-28,-36,-42,-46,-52]],
[24.88,[-4,-20,-24,-34,-40,-48,-53]],[24.92,[-4,-44,-52,-30]],[24.96,[-43,-86,-178]],[25.01,[-89,-95,-118,-125,-131,-135,-140,-145,-165,-167,-170,-172,-175,-178,-200,-203,-206,-216]],[25.02,[-128,-134,-140,-146,-168,-174,-180,-183,-196,-201]],
[25.03,[-122,-133,-138,-170,-175,-186,-202]],[25.10,[-46,-150,-165,-178,-184,-190,-195,-198,-210,-224,-238,-245,-246]],[25.12,[-3,-6,-43,-158,-165,-192,-198,-209,-238,-246]],[25.20,[-8,-85,-90,-105]],[25.22,[-6,-86,-155]],
[25.34,[-88,-103,-105]],[25.38,[-50,-56,-112,-135,-137]],[25.40,[-50,-58,-62,-66,-72,-76,-82,-86,-92,-96,-100,-106,-113,-115,-134,-138]],[25.42,[-30,-32,-52,-60,-64,-70,-74,-80,-84,-90,-94,-100,-135,-137]],[25.44,[-30,-33,-54,-62,-70,-78,-86,-92]],
[25.56,[-26,-30,-36,-42,-48,-52,-58,-64,-70,-76,-78]],[25.58,[-24,-28,-34,-38,-44,-50,-54,-60,-66,-72,-78]],[25.60,[-26,-30,-36,-42,-46,-52,-58,-64,-72,-76]],[25.62,[-11,-17,-20,-24,-30,-38,-44,-50,-64,-70,-78]],[25.65,[-12,-20,-28,-36]],
[25.74,[-11,-60,-72,-84,-110,-134]],[25.72,[-106,-95]],[25.80,[-108,-104,-94,-30]],[25.86,[-30,-34,-44,-50,-55,-58,-72,-78,-90]],[25.88,[-32,-42,-46,-52,-58,-64,-68,-74,-80,-84,-92,-104]],[25.90,[-44,-50,-66,-70,-74,-78,-96]],[25.94,[-24,-36,-64,-70]],[25.97,[-54,-60]]
];
const p4SurfaceDays = [23.45,23.50,23.53,23.56,23.58,23.62,23.66,23.69,23.71,23.73,23.75,23.77,23.79,23.81,23.83,23.85,23.87,23.89,23.91,23.93,23.95,23.97,24.0,24.10,24.18,24.25,24.31,24.33,24.35,24.37,24.39,24.41,24.53,24.55,24.61,24.75,24.79,24.81,24.83,24.85,24.87,25.12,25.2];

const p5Small = [
[26.01,[-20,-25,-45,-50,-56,-62,-68,-74,-86,-90,-94,-121]],[26.02,[-24,-28,-46,-52,-58,-64,-70,-88,-93,-148]],[26.04,[-23,-27,-30,-50,-54,-60,-66,-72,-78,-86,-92,-121,-147,-221]],
[26.05,[-22,-28,-48,-52,-58,-62,-68,-76,-80,-90]],[26.07,[-20,-26,-46,-52,-58,-64,-70,-78,-84]],[26.08,[-8,-24,-28,-38,-44,-54,-60,-66,-78,-146]],[26.09,[-26,-30,-42,-48,-56,-62,-80,-82]],[26.03,[-48,-54,-60,-66,-72]],[26.06,[-50,-56,-62,-68,-74]],
[26.10,[-14,-22,-38,-44,-50,-80,-84]],[26.13,[-18,-25,-30,-36,-44,-82,-87]],[26.16,[-20,-24,-28,-58,-62,-92]],[26.18,[-18,-24,-28,-70,-105]],[26.27,[-88,-92,-97,-100,-104,-108,-112,-118,-112,-124,-128,-132,-135,-137,-142,-154,-165,-178,-196,-209,-238,-241]],
[26.28,[-87,-92,-96,-100,-110,-118,-124,-126,-132,-136,-140,-152,-165,-178]],[26.31,[-92,-96,-120,-124,-138]],[26.54,[-22,-42,-50,-58,-66,-72,-78]],[26.58,[-18,-30,-36,-42,-48,-54,-60,-66,-72,-78,-86,-96,-112,-138]],
[26.60,[-16,-24,-30,-36,-42,-48,-54,-60,-66,-72,-78,-84,-108]],[26.62,[-8,-14,-20,-26,-32,-38,-44,-50,-56,-62,-68,-74,-80,-100,-112]],[26.64,[-6,-9,-12,-18,-24,-30,-36,-42,-48,-54,-60,-66,-72,-78]],
[26.66,[-10,-14,-20,-26,-32,-38,-44,-50,-56,-62,-68,-78]],[26.68,[-12,-18,-24,-30,-36,-42,-48,-54,-60,-66,-74]],[26.70,[-16,-22,-28,-34,-40,-46,-52,-58,-68,-193,-238]],[26.73,[-14,-20,-26,-32,-38,-48,-56,-64,-70,-176]],
[26.59,[-20,-27,-33,-39,-45,-51,-57,-63,-69,-75]],[26.61,[-19,-28,-34,-40,-46,-52,-58,-64,-70]],[26.63,[-17,-23,-29,-35,-41,-47,-53,-59,-65,-71]],[26.65,[-16,-22,-28,-34,-40,-46,-52,-58,-64]],[26.67,[-16,-23,-29,-35,-41,-47,-53,-59]],
[26.78,[-20,-28,-36,-44,-52,-62,-70,-234]],[26.82,[-18,-30,-40,-48,-58,-70]],[26.87,[-6,-8,-28,-34,-42,-48,-54,-60,-66,-72,-78,-84,-88,-92]],[26.89,[-30,-36,-44,-50,-56,-62,-68,-74,-80,-86]],
[26.98,[-52,-90,-106,-112,-120,-123,-165]],[27.02,[-14,-26,-30,-36,-92,-96,-106,-112,-122,-126]],[27.05,[-30,-34,-38,-42,-46,-50,-54,-60,-66,-74,-100,-110]],[27.07,[-26,-30,-34,-38,-42,-46,-50,-54,-58,-64,-70,-76,-82,-88,-94,-113]],
[27.08,[-28,-32,-36,-40,-44,-48,-52,-56,-62,-68,-74,-80,-86,-90,-94]],[27.10,[-24,-28,-32,-36,-40,-44,-48,-54,-60,-66,-72,-78,-84,-90,-100]],[27.12,[-10,-13,-28,-32,-38,-44,-52,-60,-70,-76,-80,-84,-88,-100,-115]],[27.09,[-26,-30,-34,-38,-42,-46,-50,-58,-64,-70]],[27.11,[-58,-62,-66,-70,-74,-78,-82,-86]],[27.13,[-60,-64,-68,-72,-76,-80]],
[27.15,[-40,-48,-62,-72,-78,-84,-106,-110]],[27.18,[-22,-50,-70,-76,-80,-86,-105]],[27.24,[-8,-36,-60,-80,-90,-102,-112,-145,-170,-193]],[27.26,[-24,-42,-70,-76,-106,-148,-158]],[27.32,[-30,-156,-155,-147]],[27.36,[-34,-102,-162,-152]],
[27.45,[-194,-24,-48,-50]],[27.48,[-50,-76,-129,-150,-130]],[27.52,[-24,-32,-54,-76]],[27.55,[-28,-36,-42,-84,-128]],[27.60,[-24,-30,-36,-42,-130,-115,-197]],[27.65,[-20,-24,-28,-32,-36,-44,-76,-198]],
[28.50,[-80,-125,-116]],[28.53,[-24,-50,-54,-78,-88,-100]],[28.57,[-50,-56,-70,-80,-99,-140,-225,-230]],[28.59,[-46,-52,-62,-74,-88,-94,-228,-235]],[28.62,[-44,-50,-58,-66,-82,-92,-240]],[28.65,[-52,-62,-72,-80,-84,-98,-100]],
[28.68,[-6,-8,-10,-14,-18,-22,-26,-50,-58,-66,-74,-82,-90,-100,-118,-122,-128,-130,-136,-142,-150,-156,-160,-168,-174,-178,-181,-240,-244,-246]],[28.70,[-6,-8,-14,-20,-24,-28,-46,-60,-72,-84,-95,-106,-120,-126,-134,-144,-150,-158,-166,-172,-176,-182,-240,-245]],
[28.72,[-6,-10,-16,-22,-26,-48,-62,-80,-112,-116,-122,-128,-140,-150,-157,-166]],[28.75,[-6,-30,-38,-50,-56,-70,-128]],[28.80,[-6,-30,-40,-48,-58,-68]],[28.85,[-6,-4,-22,-30,-38,-46]],[28.88,[-6,-36,-44]],[28.92,[-42,-50,-54]],
[28.98,[-28,-42,-165,-232]],[29.03,[-6,-226,-228]],[29.07,[-5,-108]],[29.11,[-6,-68,-88,-94,-98,-102]],[29.13,[-118,-94]],[29.17,[-6,-149,-186]],[29.22,[-204]],[29.27,[-12,-46,-48,-72,-80,-84,-94]],[29.33,[-48,-80]],
[29.35,[-22,-96,-98,-92]],[29.40,[-58,-148,-76,-82,-194]],[29.43,[-22,-38,-44,-58,-152]],[29.47,[-36,-66,-60]],[29.52,[-42,-54,-62,-160,-188]],[29.58,[-50,-56,-117,-110]],[29.61,[-44,-156,-173]],[29.65,[-6,-18,-112]],
[29.70,[-66,-52]],[29.75,[-64,-62]],[29.78,[-18,-30,-32,-36]],[29.83,[-8,-28,-84,-112]],[29.87,[-10,-28,-30,-108]],[29.94,[-18,-175]],[30.06,[-34,-110]],[30.10,[-5,-52,-56,-30,-36]],
[30.17,[-52,-60,-70,-118,-126,-128,-140,-142,-148]],[30.19,[-46,-54,-64,-80,-128,-140,-142]],[30.22,[-50,-58,-84,-150]],[30.25,[-30,-34,-46,-118,-223,-244]],[30.28,[-42,-58,-114]],[30.32,[-24,-34,-36,-60]],[30.38,[-12,-24,-62]],
[30.40,[-34,-64,-65,-100]],[30.47,[-6,-24,-34,-66,-103]],[30.50,[-15,-24,-33,-36]],[30.62,[-110,-137,-149,-33]],[30.63,[-18,-23,-35,-115,-148,-149]],[30.66,[-54,-62,-66]],[30.77,[-18,-24]],[30.88,[-5,-6]]
];
const p5SurfaceDays = [27.45,27.47,27.49,27.51,27.53,27.55,27.57,27.59,27.61,27.63,27.65,28.68,28.70,28.72,28.76,28.78,28.84,28.86,28.88,29.07,29.1,29.13];

// ==== swarms 1-10 t: [day, depth] ====
const p1Mid = [[14.72,-36],[14.76,-40],[14.80,-42],[14.92,-20],[14.96,-60],[15.03,-70],[15.08,-38],[15.11,-42],[15.14,-33],[15.26,-34],[15.30,-30],[15.33,-28],[15.05,-93],[15.55,-28],[15.62,-22],[15.62,-50],[15.68,-55],[15.74,-40],[15.80,-58],[15.82,-25],[15.88,-35],[15.92,-20],[15.95,-90],[15.96,-95],[15.92,-100],[15.90,-97],[16.02,-40],[16.05,-42],[16.01,-80],[16.05,-90],[16.38,-10],[16.42,-9],[16.55,-11],[16.59,-14],[16.60,-30],[16.74,-50],[16.80,-20],[16.82,-52],[16.90,-60],[16.87,-100],[17.02,-58],[17.05,-8],[17.02,-65],[17.12,-43],[17.17,-48],[17.43,-55],[17.48,-60],[17.53,-50],[17.57,-58],[17.58,-60],[17.52,-80],[17.55,-88],[17.57,-95],[17.48,-100],[17.52,-105],[17.94,-90],[17.96,-30],[17.98,-25],[18.02,-108],[18.06,-108],[18.03,-130],[17.96,-130],[17.97,-133],[18.08,-75],[18.15,-28],[18.20,-88],[18.22,-137],[18.23,-142],[18.33,-28],[18.32,-170],[18.36,-162],[18.45,-58],[18.50,-55],[18.62,-100],[18.60,-120],[18.80,-78],[18.95,-50],[19.02,-78],[18.98,-120],[19.00,-176],[18.45,-5],[18.55,-8],[18.62,-8],[18.70,-6],[18.92,-6],[15.76,-189]];
const p2Mid = [[16.01,-15],[16.54,-13],[16.54,-24],[16.71,-32],[16.55,-70],[17.05,-20],[16.94,-56],[17.12,-66],[17.40,-26],[17.79,-16],[17.85,-36],[17.85,-43],[17.85,-68],[18.16,-57],[18.18,-8],[18.08,-25],[18.48,-23],[18.49,-49],[18.50,-60],[18.35,-73],[18.52,-77],[18.46,-98],[18.20,-87],[18.82,-88],[18.84,-93],[18.96,-9],[18.88,-30],[18.99,-54],[19.10,-55],[19.10,-86],[19.10,-97],[19.15,-120],[19.11,-33],[19.58,-47],[19.58,-60],[19.60,-69],[19.75,-54],[19.74,-76],[19.90,-70],[19.83,-8],[19.60,-155],[19.81,-170],[20.18,-44],[20.18,-49],[20.20,-67],[20.20,-101],[20.20,-107],[20.13,-110],[20.16,-128],[20.18,-147],[20.33,-148],[20.40,-89],[20.45,-33],[20.50,-107],[20.50,-114],[20.49,-156],[20.50,-157]];
const p3Mid = [[21.66,-6],[21.63,-20],[21.82,-21],[21.80,-28],[21.07,-109]];
const p4Mid = [[21.13,-45],[21.06,-60],[21.09,-70],[21.09,-79],[21.39,-101],[21.42,-64],[21.34,-144],[21.32,-152],[21.32,-162],[23.51,-55],[23.46,-62],[23.57,-81],[23.77,-59],[24.07,-24],[24.08,-40],[24.27,-112],[24.87,-74],[25.11,-190],[25.58,-40],[25.73,-95],[25.74,-98],[25.88,-85]];
const p5Mid = [[26.64,-10],[26.15,-39],[26.10,-43],[26.15,-54],[26.19,-59],[26.62,-35],[26.76,-35],[26.72,-48],[26.76,-56],[26.73,-99],[26.55,-127],[26.55,-130],[26.56,-236],[27.06,-34],[27.08,-61],[27.10,-78],[27.11,-85],[27.26,-45],[27.27,-50],[27.19,-56],[27.34,-133],[27.06,-149],[27.55,-24],[27.65,-68],[27.52,-60],[27.53,-5],[27.55,-6],[27.57,-5],[27.58,-7],[27.60,-6],[27.61,-5],[27.62,-7],[27.64,-6],[27.66,-5],[28.98,-11],[28.81,-35],[28.90,-34],[28.78,-53],[28.61,-58],[29.02,-59],[28.81,-73],[28.53,-108],[28.59,-117],[28.69,-137],[29.11,-104],[29.51,-50],[29.54,-50],[29.69,-45],[29.55,-164],[29.93,-160],[30.12,-32],[30.10,-62],[30.19,-65],[30.19,-81],[30.11,-84],[30.28,-15],[30.65,-32],[30.67,-43]];

// ==== swarms > 50 t: [day, depth] ====
const p1Big = [[14.70,-34],[14.80,-44],[14.92,-45],[14.96,-57],[15.05,-56],[15.09,-40],[15.24,-58],[15.25,-85],[14.89,-88],[15.03,-93],[15.02,-104],[15.23,-33],[15.59,-30],[15.63,-39],[15.72,-31],[15.84,-42],[15.95,-45],[15.89,-55],[16.05,-57],[16.03,-72],[15.87,-83],[15.95,-85],[16.05,-82],[15.99,-79],[16.41,-23],[16.43,-44],[16.54,-23],[16.58,-45],[16.67,-31],[16.56,-64],[16.73,-63],[16.81,-64],[16.96,-39],[16.94,-44],[17.05,-63],[17.11,-30],[17.22,-31],[17.05,-36],[17.55,-34],[17.54,-102],[17.57,-105],[17.57,-116],[18.06,-55],[18.00,-63],[17.93,-77],[17.96,-94],[18.17,-102],[18.06,-131],[18.88,-39],[18.92,-75],[19.01,-82],[19.02,-85]];
const p2Big = [[17.50,-17],[17.86,-25],[18.16,-32],[18.17,-42],[17.31,-49],[17.85,-104],[19.83,-76],[19.83,-100],[20.47,-59],[20.35,-80]];
const p3Big = [[21.50,-13]];
const p4Big = [[24.61,-82],[25.01,-104],[25.01,-112],[25.11,-187],[25.41,-55]];
const p5Big = [[26.82,-18],[26.32,-220],[27.30,-65],[27.52,-58],[28.61,-39],[29.02,-42],[28.69,-108],[30.65,-18],[30.88,-48]];

const BLUE = "rgba(57,155,182,0.78)";
const YELLOW = "rgba(231,180,30,0.9)";
const RED = "rgba(240,38,38,0.92)";

// columns + surface row -> points for the scatter
function toPoints(columns, surfaceDays) {
    const pts = [];
    for (const [day, depths] of columns) {
        for (const d of depths) pts.push({ x: day, y: d });
    }
    for (const day of (surfaceDays || [])) {
        pts.push({ x: day, y: -5.5 });
    }
    return pts;
}

function pairs(list) {
    return list.map(p => ({ x: p[0], y: p[1] }));
}

const bandsPlugin = {
    id: "bands",
    beforeDatasetsDraw(chart, args, opts) {
        const { ctx, chartArea: a, scales: { x } } = chart;
        ctx.save();
        ctx.fillStyle = "#dfdfdf";
        for (const b of opts.list) {
            const x0 = x.getPixelForValue(b[0]);
            const x1 = x.getPixelForValue(b[1]);
            ctx.fillRect(x0, a.top, x1 - x0, a.bottom - a.top);
        }
        ctx.fillStyle = "#ececec";
        for (const s of opts.seams) {
            ctx.fillRect(Math.round(x.getPixelForValue(s)), a.top, 1, a.bottom - a.top);
        }
        ctx.restore();
    },
    afterDraw(chart) {
        const { ctx, chartArea: a } = chart;
        ctx.save();
        ctx.strokeStyle = "#575757";
        ctx.lineWidth = 1;
        ctx.strokeRect(a.left, a.top, a.right - a.left, a.bottom - a.top);
        ctx.restore();
    }
};

function makePanel(id, cfg) {
    new Chart(document.getElementById(id), {
        type: "scatter",
        plugins: [bandsPlugin],
        data: {
            datasets: [
                { data: pairs(cfg.big), pointRadius: 9, pointBorderWidth: 1.1, borderColor: RED },
                { data: pairs(cfg.mid), pointRadius: 7, pointBorderWidth: 1.1, borderColor: YELLOW },
                { data: cfg.small, pointRadius: 3.4, pointBorderWidth: 1.2, borderColor: BLUE }
            ].map(d => Object.assign(d, { backgroundColor: "transparent", pointHoverRadius: 0 }))
        },
        options: {
            responsive: false,
            animation: false,
            events: [],
            layout: { padding: { top: 12, right: 12, left: 0, bottom: 0 } },
            plugins: { legend: { display: false }, tooltip: { enabled: false }, bands: { list: cfg.bands, seams: cfg.seams } },
            scales: {
                x: {
                    type: "linear",
                    min: cfg.xMin,
                    max: cfg.xMax,
                    afterBuildTicks: s => { s.ticks = cfg.days.map(v => ({ value: v })); },
                    afterFit: s => { s.height = 32; },
                    border: { display: false },
                    grid: { drawOnChartArea: false, drawTicks: true, tickLength: 3, tickColor: "#333" },
                    ticks: {
                        autoSkip: false, maxRotation: 0, padding: 2.5,
                        color: "#4d4d4d", font: { family: "Liberation Sans", size: 10.5 },
                        callback: v => "Jan " + v
                    },
                    title: {
                        display: !!cfg.xTitle, text: cfg.xTitle || "", color: "#000",
                        padding: 0, font: { family: "Liberation Sans", size: 13 }
                    }
                },
                y: {
                    type: "linear",
                    min: cfg.yMin,
                    max: cfg.yMax,
                    afterBuildTicks: s => { s.ticks = (cfg.yTicks || []).map(v => ({ value: v })); },
                    afterFit: s => { s.width = cfg.yWidth; },
                    border: { display: false },
                    grid: { drawOnChartArea: false, drawTicks: !!cfg.yTicks, tickLength: 3, tickColor: "#333" },
                    ticks: {
                        display: !!cfg.yTicks, autoSkip: false, padding: 2,
                        color: "#4d4d4d", font: { family: "Liberation Sans", size: 10.5 }
                    },
                    title: {
                        display: !!cfg.yTicks, text: "Depth (m)", color: "#000",
                        padding: 0, font: { family: "Liberation Sans", size: 12.5 }
                    }
                }
            }
        }
    });
}

makePanel("p1", { small: toPoints(p1Small, p1SurfaceDays), mid: p1Mid, big: p1Big, bands: p1Bands, seams: p1Seams, days: p1Days, xMin: 14.231, xMax: 19.484, yMin: -257, yMax: 7.6, yTicks: depthTicks, yWidth: 45 });
makePanel("p2", { small: toPoints(p2Small, p2SurfaceDays), mid: p2Mid, big: p2Big, bands: p2Bands, seams: p2Seams, days: p2Days, xMin: 15.529, xMax: 21.74, yMin: -257, yMax: 7.6, yWidth: 50 });
makePanel("p3", { small: toPoints(p3Small), mid: p3Mid, big: p3Big, bands: p3Bands, seams: p3Seams, days: p3Days, xMin: 19.0, xMax: 24.235, yMin: -218, yMax: 5, yTicks: depthTicksKactas, yWidth: 45, xTitle: "KACTAS period" });
makePanel("p4", { small: toPoints(p4Small, p4SurfaceDays), mid: p4Mid, big: p4Big, bands: p4Bands, seams: p4Seams, days: p4Days, xMin: 20.745, xMax: 26.727, yMin: -257, yMax: 7.6, yWidth: 50 });
makePanel("p5", { small: toPoints(p5Small, p5SurfaceDays), mid: p5Mid, big: p5Big, bands: p5Bands, seams: p5Seams, days: p5Days, xMin: 25.772, xMax: 31.118, yMin: -257, yMax: 7.6, yWidth: 50, xTitle: "KAOS period" });
</script>
</body>
</html>
